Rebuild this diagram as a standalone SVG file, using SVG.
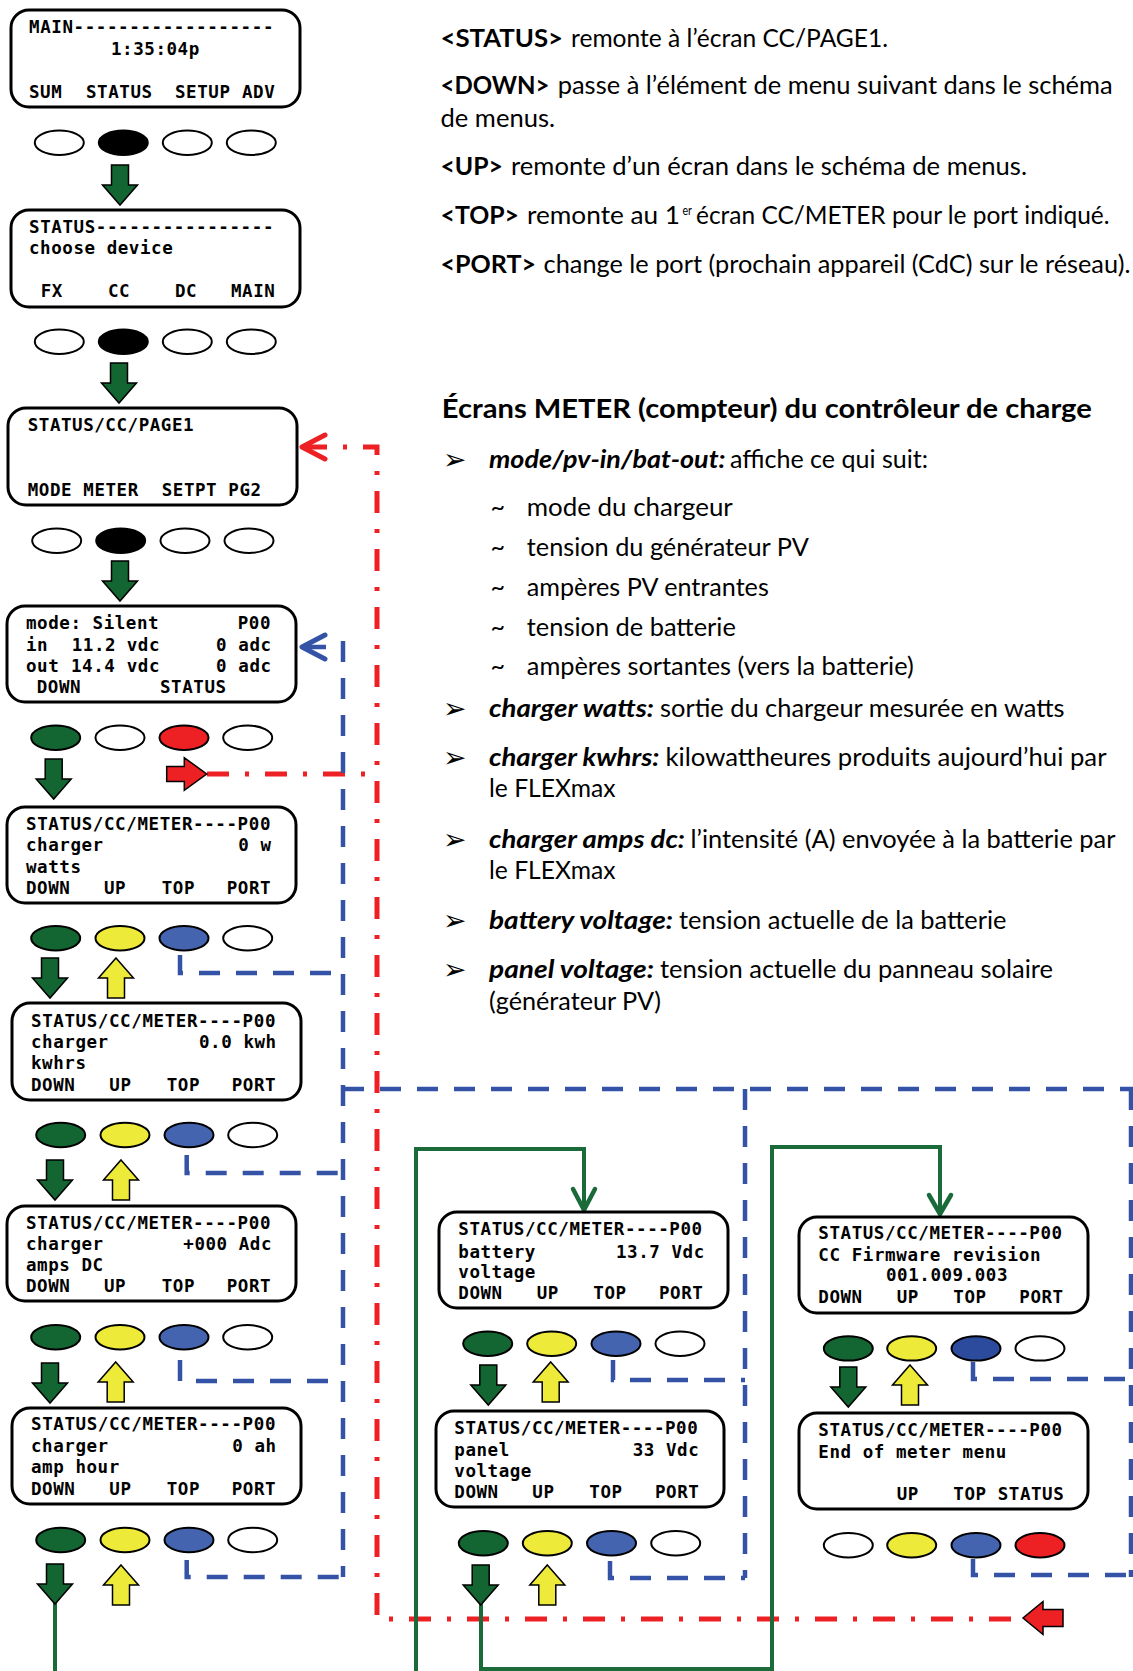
<svg xmlns="http://www.w3.org/2000/svg" width="1133" height="1671" viewBox="0 0 1133 1671">
<style>
.box{fill:#fff;stroke:#000;stroke-width:3}
.lcd{font-family:"DejaVu Sans Mono","Liberation Mono",monospace;font-weight:bold;font-size:17.5px;letter-spacing:0.56px;fill:#000}
.b{stroke:#000;stroke-width:2}
.w{fill:#fff}.k{fill:#000}.g{fill:#136532}.y{fill:#eeea3a}.bl{fill:#4564b0}.bd{fill:#2d4b9c}.r{fill:#ed2024}
.ag{fill:#136532;stroke:#000;stroke-width:1.5}
.ay{fill:#eeea3a;stroke:#000;stroke-width:1.5}
.ar{fill:#ed2024;stroke:#000;stroke-width:1.5}
.bluel{fill:none;stroke:#3553a6;stroke-width:4.5;stroke-dasharray:21 16}
.redl{fill:none;stroke:#ed2024;stroke-width:5;stroke-dasharray:22 16 4 16}
.grl{fill:none;stroke:#1a6a3a;stroke-width:4}
.chb{fill:none;stroke:#3553a6;stroke-width:5;stroke-linecap:round;stroke-linejoin:round}
.chr{fill:none;stroke:#ed2024;stroke-width:5;stroke-linecap:round;stroke-linejoin:round}
.chg{fill:none;stroke:#1a6a3a;stroke-width:4.5;stroke-linecap:round;stroke-linejoin:round}
.tx{font-family:Lato,"Open Sans","Liberation Sans",sans-serif;font-size:25px;fill:#000}
.bo{font-weight:bold}
.bi{font-weight:bold;font-style:italic}
.h{font-family:Lato,"Open Sans","Liberation Sans",sans-serif;font-size:27px;font-weight:bold;fill:#000}
.bul{font-family:"DejaVu Sans",sans-serif;font-size:28px;fill:#000}
.sup{font-family:Lato,"Open Sans","Liberation Sans",sans-serif;font-size:14px;fill:#000}
</style>
<defs>
<path id="dn" class="ag" d="M-8.5,0 H8.5 V20 H17.5 L0,40 L-17.5,20 H-8.5 Z"/>
<path id="up" class="ay" d="M0,0 L17.5,20 H8.5 V40 H-8.5 V20 H-17.5 Z"/>
</defs>

<g id="connectors">
<path class="redl" d="M305,447 H377 V1619 H1023"/>
<path class="redl" d="M207,774 H377"/>
<polyline class="chr" points="325,435 302,447 325,459"/>
<line x1="302" y1="647" x2="326" y2="647" style="stroke:#3553a6;stroke-width:4.5"/>
<polyline class="chb" points="325,635 302,647 325,659"/>
<path class="bluel" d="M343,641 V1577"/>
<path class="bluel" d="M180,955 V973 H343"/>
<path class="bluel" d="M186.7,1155 V1173 H343"/>
<path class="bluel" d="M180,1360 V1381 H343"/>
<path class="bluel" d="M186.7,1560 V1577 H343"/>
<path class="bluel" d="M343,1089 H1140"/>
<path class="bluel" d="M745,1089 V1578"/>
<path class="bluel" d="M1131,1089 V1577"/>
<path class="bluel" d="M613,1360 V1380 H745"/>
<path class="bluel" d="M610,1561 V1578 H745"/>
<path class="bluel" d="M973,1362 V1379 H1140"/>
<path class="bluel" d="M973,1559 V1575 H1140"/>
<path class="grl" d="M55,1603 V1675"/>
<path class="grl" d="M416,1675 V1149 H584 V1208"/>
<polyline class="chg" points="573,1189 584,1210 595,1189"/>
<path class="grl" d="M481,1604 V1669 H772 V1147 H940 V1212"/>
<polyline class="chg" points="929,1195 940,1214 951,1195"/>
<path class="ar" d="M166.7,766.5 H184.3 V757.7 L206.7,774 L184.3,790.3 V781.5 H166.7 Z"/>
<path class="ar" d="M1063,1609.5 H1043 V1601.5 L1023,1618 L1043,1634.5 V1626.5 H1063 Z"/>
<use href="#dn" x="120" y="165"/>
<use href="#dn" x="119" y="363"/>
<use href="#dn" x="120" y="561"/>
<use href="#dn" x="53.7" y="759"/>
<use href="#dn" x="50" y="958"/>
<use href="#dn" x="55" y="1160"/>
<use href="#dn" x="50" y="1363"/>
<use href="#dn" x="55" y="1564"/>
<use href="#dn" x="488.3" y="1365"/>
<use href="#dn" x="480.7" y="1565"/>
<use href="#dn" x="848.3" y="1367"/>
<use href="#up" x="116" y="958"/>
<use href="#up" x="121" y="1160"/>
<use href="#up" x="115.7" y="1362"/>
<use href="#up" x="121" y="1565"/>
<use href="#up" x="550.7" y="1362"/>
<use href="#up" x="547.3" y="1565"/>
<use href="#up" x="910" y="1365"/>
</g>

<g id="buttons">
<ellipse class="b w" cx="59.3" cy="142.7" rx="24.5" ry="12.2"/><ellipse class="b k" cx="123.3" cy="142.7" rx="24.5" ry="12.2"/><ellipse class="b w" cx="187.3" cy="142.7" rx="24.5" ry="12.2"/><ellipse class="b w" cx="251.3" cy="142.7" rx="24.5" ry="12.2"/>
<ellipse class="b w" cx="59.3" cy="341.7" rx="24.5" ry="12.2"/><ellipse class="b k" cx="123.3" cy="341.7" rx="24.5" ry="12.2"/><ellipse class="b w" cx="187.3" cy="341.7" rx="24.5" ry="12.2"/><ellipse class="b w" cx="251.3" cy="341.7" rx="24.5" ry="12.2"/>
<ellipse class="b w" cx="56.7" cy="540.7" rx="24.5" ry="12.2"/><ellipse class="b k" cx="120.7" cy="540.7" rx="24.5" ry="12.2"/><ellipse class="b w" cx="185" cy="540.7" rx="24.5" ry="12.2"/><ellipse class="b w" cx="249" cy="540.7" rx="24.5" ry="12.2"/>
<ellipse class="b g" cx="55.7" cy="737.7" rx="24.5" ry="12.2"/><ellipse class="b w" cx="120" cy="737.7" rx="24.5" ry="12.2"/><ellipse class="b r" cx="184" cy="737.7" rx="24.5" ry="12.2"/><ellipse class="b w" cx="247.7" cy="737.7" rx="24.5" ry="12.2"/>
<ellipse class="b g" cx="55.7" cy="938.3" rx="24.5" ry="12.2"/><ellipse class="b y" cx="120" cy="938.3" rx="24.5" ry="12.2"/><ellipse class="b bl" cx="184" cy="938.3" rx="24.5" ry="12.2"/><ellipse class="b w" cx="247.7" cy="938.3" rx="24.5" ry="12.2"/>
<ellipse class="b g" cx="60.7" cy="1135" rx="24.5" ry="12.2"/><ellipse class="b y" cx="125" cy="1135" rx="24.5" ry="12.2"/><ellipse class="b bl" cx="189" cy="1135" rx="24.5" ry="12.2"/><ellipse class="b w" cx="252.7" cy="1135" rx="24.5" ry="12.2"/>
<ellipse class="b g" cx="55.7" cy="1337.3" rx="24.5" ry="12.2"/><ellipse class="b y" cx="120" cy="1337.3" rx="24.5" ry="12.2"/><ellipse class="b bl" cx="184" cy="1337.3" rx="24.5" ry="12.2"/><ellipse class="b w" cx="247.7" cy="1337.3" rx="24.5" ry="12.2"/>
<ellipse class="b g" cx="60.7" cy="1540" rx="24.5" ry="12.2"/><ellipse class="b y" cx="125" cy="1540" rx="24.5" ry="12.2"/><ellipse class="b bl" cx="189" cy="1540" rx="24.5" ry="12.2"/><ellipse class="b w" cx="252.7" cy="1540" rx="24.5" ry="12.2"/>
<ellipse class="b g" cx="487.7" cy="1343.7" rx="24.5" ry="12.2"/><ellipse class="b y" cx="551.7" cy="1343.7" rx="24.5" ry="12.2"/><ellipse class="b bl" cx="616" cy="1343.7" rx="24.5" ry="12.2"/><ellipse class="b w" cx="680" cy="1343.7" rx="24.5" ry="12.2"/>
<ellipse class="b g" cx="483.3" cy="1543.2" rx="24.5" ry="12.2"/><ellipse class="b y" cx="547.3" cy="1543.2" rx="24.5" ry="12.2"/><ellipse class="b bl" cx="611.5" cy="1543.2" rx="24.5" ry="12.2"/><ellipse class="b w" cx="675.7" cy="1543.2" rx="24.5" ry="12.2"/>
<ellipse class="b g" cx="848.3" cy="1348.4" rx="24.5" ry="12.2"/><ellipse class="b y" cx="911.7" cy="1348.4" rx="24.5" ry="12.2"/><ellipse class="b bd" cx="976" cy="1348.4" rx="24.5" ry="12.2"/><ellipse class="b w" cx="1040" cy="1348.4" rx="24.5" ry="12.2"/>
<ellipse class="b w" cx="848.3" cy="1545.2" rx="24.5" ry="12.2"/><ellipse class="b y" cx="911.7" cy="1545.2" rx="24.5" ry="12.2"/><ellipse class="b bl" cx="976" cy="1545.2" rx="24.5" ry="12.2"/><ellipse class="b r" cx="1040" cy="1545.2" rx="24.5" ry="12.2"/>
</g>

<g id="scr-main">
<rect class="box" x="11" y="10" width="289" height="97" rx="18"/>
<text class="lcd" x="29" y="33" textLength="245">MAIN------------------</text>
<text class="lcd" x="111" y="55">1:35:04p</text>
<text class="lcd" x="29" y="98">SUM</text><text class="lcd" x="86" y="98">STATUS</text><text class="lcd" x="175" y="98">SETUP</text><text class="lcd" x="242" y="98">ADV</text>
</g>
<g id="scr-status">
<rect class="box" x="11" y="210" width="289" height="97" rx="18"/>
<text class="lcd" x="29" y="233" textLength="245">STATUS----------------</text>
<text class="lcd" x="29" y="254">choose device</text>
<text class="lcd" x="40.7" y="297">FX</text><text class="lcd" x="108" y="297">CC</text><text class="lcd" x="175" y="297">DC</text><text class="lcd" x="231" y="297">MAIN</text>
</g>
<g id="scr-page1">
<rect class="box" x="8" y="408" width="289" height="97" rx="18"/>
<text class="lcd" x="27.7" y="431">STATUS/CC/PAGE1</text>
<text class="lcd" x="27.7" y="496">MODE</text><text class="lcd" x="83.3" y="496">METER</text><text class="lcd" x="161.7" y="496">SETPT</text><text class="lcd" x="228.3" y="496">PG2</text>
</g>
<g id="scr-mode">
<rect class="box" x="7" y="606" width="289" height="96" rx="18"/>
<text class="lcd" x="26" y="629">mode: Silent</text><text class="lcd" x="237.7" y="629">P00</text>
<text class="lcd" x="26" y="651">in</text><text class="lcd" x="71.7" y="651">11.2</text><text class="lcd" x="126.7" y="651">vdc</text><text class="lcd" x="216" y="651">0</text><text class="lcd" x="238.3" y="651">adc</text>
<text class="lcd" x="26" y="672">out</text><text class="lcd" x="71" y="672">14.4</text><text class="lcd" x="126.7" y="672">vdc</text><text class="lcd" x="216" y="672">0</text><text class="lcd" x="238.3" y="672">adc</text>
<text class="lcd" x="36.7" y="693">DOWN</text><text class="lcd" x="160" y="693">STATUS</text>
</g>
<g id="scr-watts">
<rect class="box" x="7" y="807" width="289" height="96" rx="18"/>
<text class="lcd" x="26" y="830" textLength="245">STATUS/CC/METER----P00</text>
<text class="lcd" x="26" y="851">charger</text><text class="lcd" x="238.3" y="851">0 w</text>
<text class="lcd" x="26" y="872.7">watts</text>
<text class="lcd" x="26" y="894.3">DOWN</text><text class="lcd" x="104" y="894.3">UP</text><text class="lcd" x="161.7" y="894.3">TOP</text><text class="lcd" x="226.7" y="894.3">PORT</text>
</g>
<g id="scr-kwhrs">
<rect class="box" x="12" y="1003" width="289" height="97" rx="18"/>
<text class="lcd" x="31" y="1026.7" textLength="245">STATUS/CC/METER----P00</text>
<text class="lcd" x="31" y="1048.3">charger</text><text class="lcd" x="199" y="1048.3">0.0 kwh</text>
<text class="lcd" x="31" y="1069.3">kwhrs</text>
<text class="lcd" x="31" y="1091">DOWN</text><text class="lcd" x="109.3" y="1091">UP</text><text class="lcd" x="166.7" y="1091">TOP</text><text class="lcd" x="231.7" y="1091">PORT</text>
</g>
<g id="scr-ampsdc">
<rect class="box" x="7" y="1206" width="289" height="95" rx="18"/>
<text class="lcd" x="26" y="1229" textLength="245">STATUS/CC/METER----P00</text>
<text class="lcd" x="26" y="1250">charger</text><text class="lcd" x="183.3" y="1250">+000 Adc</text>
<text class="lcd" x="26" y="1270.7">amps DC</text>
<text class="lcd" x="26" y="1292.3">DOWN</text><text class="lcd" x="104" y="1292.3">UP</text><text class="lcd" x="161.7" y="1292.3">TOP</text><text class="lcd" x="226.7" y="1292.3">PORT</text>
</g>
<g id="scr-amphour">
<rect class="box" x="12" y="1408" width="289" height="96" rx="18"/>
<text class="lcd" x="31" y="1430" textLength="245">STATUS/CC/METER----P00</text>
<text class="lcd" x="31" y="1451.7">charger</text><text class="lcd" x="232.3" y="1451.7">0 ah</text>
<text class="lcd" x="31" y="1473.3">amp hour</text>
<text class="lcd" x="31" y="1495">DOWN</text><text class="lcd" x="109.3" y="1495">UP</text><text class="lcd" x="166.7" y="1495">TOP</text><text class="lcd" x="231.7" y="1495">PORT</text>
</g>
<g id="scr-battery">
<rect class="box" x="439" y="1212" width="289" height="96" rx="18"/>
<text class="lcd" x="458.3" y="1235.4" textLength="244.4">STATUS/CC/METER----P00</text>
<text class="lcd" x="458.3" y="1257.6">battery</text><text class="lcd" x="616" y="1257.6">13.7 Vdc</text>
<text class="lcd" x="458.3" y="1278.2">voltage</text>
<text class="lcd" x="458.3" y="1298.9">DOWN</text><text class="lcd" x="536.7" y="1298.9">UP</text><text class="lcd" x="593.3" y="1298.9">TOP</text><text class="lcd" x="659" y="1298.9">PORT</text>
</g>
<g id="scr-panel">
<rect class="box" x="436" y="1411" width="288" height="96" rx="18"/>
<text class="lcd" x="454.3" y="1434.1" textLength="244">STATUS/CC/METER----P00</text>
<text class="lcd" x="454.3" y="1456.3">panel</text><text class="lcd" x="632.7" y="1456.3">33 Vdc</text>
<text class="lcd" x="454.3" y="1477">voltage</text>
<text class="lcd" x="454.3" y="1498">DOWN</text><text class="lcd" x="532.3" y="1498">UP</text><text class="lcd" x="589.3" y="1498">TOP</text><text class="lcd" x="655" y="1498">PORT</text>
</g>
<g id="scr-firmware">
<rect class="box" x="799" y="1217" width="289" height="96" rx="18"/>
<text class="lcd" x="818.3" y="1239.3" textLength="244.4">STATUS/CC/METER----P00</text>
<text class="lcd" x="818.3" y="1260.7" textLength="222.7">CC Firmware revision</text>
<text class="lcd" x="886" y="1281.4">001.009.003</text>
<text class="lcd" x="818.3" y="1302.8">DOWN</text><text class="lcd" x="896.7" y="1302.8">UP</text><text class="lcd" x="953.3" y="1302.8">TOP</text><text class="lcd" x="1019.3" y="1302.8">PORT</text>
</g>
<g id="scr-end">
<rect class="box" x="799" y="1413" width="289" height="96" rx="18"/>
<text class="lcd" x="818.3" y="1436.1" textLength="244.4">STATUS/CC/METER----P00</text>
<text class="lcd" x="818.3" y="1457.5">End of meter menu</text>
<text class="lcd" x="896.7" y="1499.6">UP</text><text class="lcd" x="953.3" y="1499.6">TOP</text><text class="lcd" x="997.7" y="1499.6">STATUS</text>
</g>

<g id="keys-text">
<text class="tx bo" x="440.5" y="46.5" textLength="122.5" lengthAdjust="spacingAndGlyphs">&lt;STATUS&gt;</text>
<text class="tx" x="571" y="46.5" textLength="317" lengthAdjust="spacingAndGlyphs">remonte à l’écran CC/PAGE1.</text>
<text class="tx bo" x="440.5" y="93.7" textLength="109" lengthAdjust="spacingAndGlyphs">&lt;DOWN&gt;</text>
<text class="tx" x="557.7" y="93.7" textLength="555" lengthAdjust="spacingAndGlyphs">passe à l’élément de menu suivant dans le schéma</text>
<text class="tx" x="440.5" y="127" textLength="114.5" lengthAdjust="spacingAndGlyphs">de menus.</text>
<text class="tx bo" x="440.5" y="175" textLength="62.5" lengthAdjust="spacingAndGlyphs">&lt;UP&gt;</text>
<text class="tx" x="511" y="175" textLength="516" lengthAdjust="spacingAndGlyphs">remonte d’un écran dans le schéma de menus.</text>
<text class="tx bo" x="440.5" y="224" textLength="78.5" lengthAdjust="spacingAndGlyphs">&lt;TOP&gt;</text>
<text class="tx" x="527" y="224" textLength="153" lengthAdjust="spacingAndGlyphs">remonte au 1</text>
<text class="sup" x="682.5" y="215" textLength="9.5" lengthAdjust="spacingAndGlyphs">er</text>
<text class="tx" x="696" y="224" textLength="413.5" lengthAdjust="spacingAndGlyphs">écran CC/METER pour le port indiqué.</text>
<text class="tx bo" x="440.5" y="272.7" textLength="95.5" lengthAdjust="spacingAndGlyphs">&lt;PORT&gt;</text>
<text class="tx" x="543.6" y="272.7" textLength="587" lengthAdjust="spacingAndGlyphs">change le port (prochain appareil (CdC) sur le réseau).</text>
</g>

<g id="meter-text">
<text class="h" x="441.8" y="417.6" textLength="650" lengthAdjust="spacingAndGlyphs">Écrans METER (compteur) du contrôleur de charge</text>
<text class="bul" x="443" y="469">➢</text>
<text class="tx bi" x="489" y="467.8" textLength="236.5" lengthAdjust="spacingAndGlyphs">mode/pv-in/bat-out:</text>
<text class="tx" x="730" y="467.8" textLength="198" lengthAdjust="spacingAndGlyphs">affiche ce qui suit:</text>
<text class="tx" x="490.5" y="515.9">~</text><text class="tx" x="526.8" y="515.9" textLength="206" lengthAdjust="spacingAndGlyphs">mode du chargeur</text>
<text class="tx" x="490.5" y="555.5">~</text><text class="tx" x="526.8" y="555.5" textLength="282" lengthAdjust="spacingAndGlyphs">tension du générateur PV</text>
<text class="tx" x="490.5" y="595.5">~</text><text class="tx" x="526.8" y="595.5" textLength="242" lengthAdjust="spacingAndGlyphs">ampères PV entrantes</text>
<text class="tx" x="490.5" y="635.5">~</text><text class="tx" x="526.8" y="635.5" textLength="209" lengthAdjust="spacingAndGlyphs">tension de batterie</text>
<text class="tx" x="490.5" y="674.7">~</text><text class="tx" x="526.8" y="674.7" textLength="387" lengthAdjust="spacingAndGlyphs">ampères sortantes (vers la batterie)</text>
<text class="bul" x="443" y="718">➢</text>
<text class="tx bi" x="489" y="716.7" textLength="165" lengthAdjust="spacingAndGlyphs">charger watts:</text>
<text class="tx" x="660" y="716.7" textLength="404.5" lengthAdjust="spacingAndGlyphs">sortie du chargeur mesurée en watts</text>
<text class="bul" x="443" y="767">➢</text>
<text class="tx bi" x="489" y="765.7" textLength="170.5" lengthAdjust="spacingAndGlyphs">charger kwhrs:</text>
<text class="tx" x="665.5" y="765.7" textLength="441" lengthAdjust="spacingAndGlyphs">kilowattheures produits aujourd’hui par</text>
<text class="tx" x="489" y="797" textLength="126.5" lengthAdjust="spacingAndGlyphs">le FLEXmax</text>
<text class="bul" x="443" y="849">➢</text>
<text class="tx bi" x="489" y="847.5" textLength="196" lengthAdjust="spacingAndGlyphs">charger amps dc:</text>
<text class="tx" x="690.5" y="847.5" textLength="425" lengthAdjust="spacingAndGlyphs">l’intensité (A) envoyée à la batterie par</text>
<text class="tx" x="489" y="879" textLength="126.5" lengthAdjust="spacingAndGlyphs">le FLEXmax</text>
<text class="bul" x="443" y="930">➢</text>
<text class="tx bi" x="489" y="929" textLength="184" lengthAdjust="spacingAndGlyphs">battery voltage:</text>
<text class="tx" x="679" y="929" textLength="327.4" lengthAdjust="spacingAndGlyphs">tension actuelle de la batterie</text>
<text class="bul" x="443" y="979">➢</text>
<text class="tx bi" x="489" y="977.5" textLength="165" lengthAdjust="spacingAndGlyphs">panel voltage:</text>
<text class="tx" x="660" y="977.5" textLength="393" lengthAdjust="spacingAndGlyphs">tension actuelle du panneau solaire</text>
<text class="tx" x="489" y="1009.5" textLength="172" lengthAdjust="spacingAndGlyphs">(générateur PV)</text>
</g>
</svg>
